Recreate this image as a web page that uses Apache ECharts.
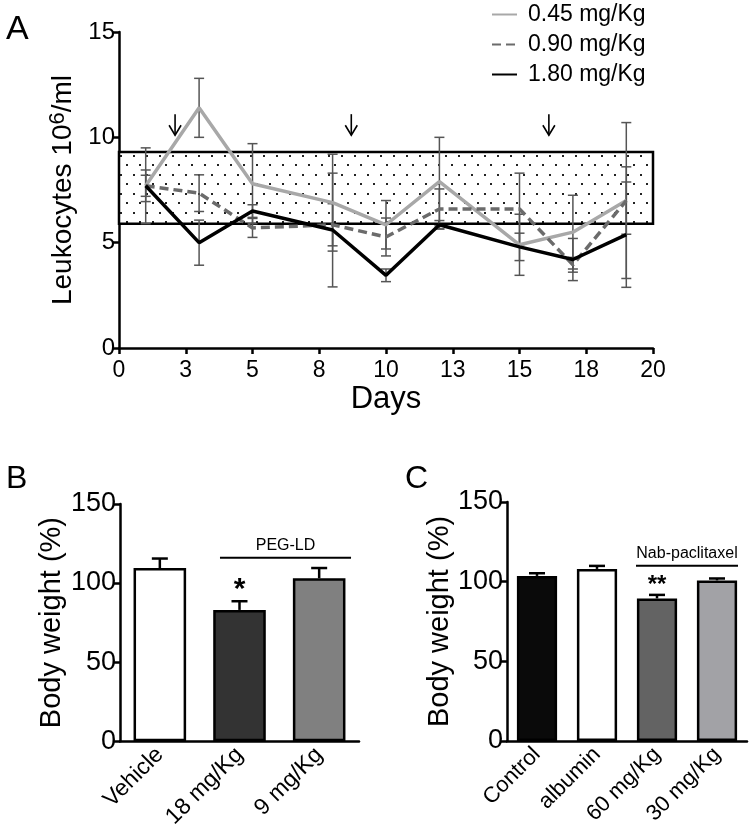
<!DOCTYPE html>
<html>
<head>
<meta charset="utf-8">
<script src="https://cdn.jsdelivr.net/npm/echarts@6/dist/echarts.min.js"></script>
<style>
  html, body { margin: 0; padding: 0; background: #fff; }
  #chart { width: 750px; height: 831px; }
</style>
</head>
<body>
<div id="chart"></div>
<script>
// Three panels in one chart: A = leukocyte counts over time (3 doses, with
// normal-range band and dosing arrows), B and C = body weight bar charts.

const FONT = '"Liberation Sans", Arial, Helvetica, sans-serif';

// ---- panel A data ----
const days = [1, 3, 5, 8, 10, 12, 15, 17, 19];
const doseNames = ['0.45 mg/Kg', '0.90 mg/Kg', '1.80 mg/Kg'];
const dose045 = [7.7, 11.4, 7.8, 6.9, 5.85, 7.9, 4.9, 5.5, 7.0];
const sd045 = [1.8, 1.4, 1.9, 2.3, 1.15, 2.1, 1.45, 1.75, 3.7];
const dose090 = [7.7, 7.35, 5.7, 5.85, 5.27, 6.6, 6.6, 3.95, 7.0];
const sd090 = [0.75, 0.87, 0.45, 1.0, 0.9, 0.95, 1.7, 0.35, 1.6];
const dose180 = [7.7, 5.0, 6.5, 5.6, 3.45, 5.85, 4.8, 4.2, 5.38];
const sd180 = [0.5, 1.07, 0.3, 2.7, 0.3, 0.2, 0.65, 1.0, 2.5];
const normalBand = [5.9, 9.3];          // low, high (10^6/ml)
const arrowDays = [2.1, 8.7, 16.1];     // dosing days
const arrowSpan = [11.1, 10.1];         // arrow top, tip

// ---- panel B data ----
const bCats = ['Vehicle', '18 mg/Kg', '9 mg/Kg'];
const bMeans = [109.5, 83, 103];
const bErr = [6, 5.5, 6.5];
const bSig = ['', '*', ''];
const bGroup = [[1, 2, 116]];           // from cat, to cat, height
const bGroupLabel = ['PEG-LD'];

// ---- panel C data ----
const cCats = ['Control', 'albumin', '60 mg/Kg', '30 mg/Kg'];
const cMeans = [103.6, 108, 89.5, 100.8];
const cErr = [1.7, 1.9, 2.2, 1.2];
const cSig = ['', '', '**', ''];
const cGroup = [[2, 3, 110]];
const cGroupLabel = ['Nab-paclitaxel'];

// styles
const lineColors = ['#a8a8a8', '#6b6b6b', '#000000'];
const bFill = ['#ffffff', '#333333', '#808080'];
const cFill = ['#0a0a0a', '#ffffff', '#636363', '#a2a2a6'];

function dotPattern() {
  const c = document.createElement('canvas');
  c.width = 13; c.height = 19;
  const g = c.getContext('2d');
  g.fillStyle = '#fff';
  g.fillRect(0, 0, 13, 19);
  g.fillStyle = '#222';
  g.fillRect(3, 3, 2, 2);
  g.fillRect(9, 12, 2, 2);
  return c;
}

// error bars: [x, mean, err]; upOnly for bar charts
function errBar(capHalf, lw, color, upOnly, sig, sigSize, sigOffset) {
  return function (params, api) {
    const x = api.value(0), m = api.value(1), e = api.value(2);
    const hi = api.coord([x, m + e]);
    const lo = api.coord([x, upOnly ? m : m - e]);
    const st = { stroke: color, lineWidth: lw };
    const kids = [
      { type: 'line', shape: { x1: hi[0], y1: hi[1], x2: lo[0], y2: lo[1] }, style: st },
      { type: 'line', shape: { x1: hi[0] - capHalf, y1: hi[1], x2: hi[0] + capHalf, y2: hi[1] }, style: st },
    ];
    if (!upOnly) {
      kids.push({ type: 'line', shape: { x1: lo[0] - capHalf, y1: lo[1], x2: lo[0] + capHalf, y2: lo[1] }, style: st });
    }
    if (sig && sig[params.dataIndex]) {
      kids.push({ type: 'text', x: hi[0], y: hi[1] + sigOffset,
        style: { text: sig[params.dataIndex], fontSize: sigSize, fontWeight: 'bold', fontFamily: FONT,
          fill: '#000', align: 'center', verticalAlign: 'top' } });
    }
    return { type: 'group', children: kids };
  };
}

// group line with label above, extended by fractions of a category band
function groupLine(labels, extL, extR, fontSize) {
  return function (params, api) {
    const a = api.coord([api.value(0), api.value(2)]);
    const b = api.coord([api.value(1), api.value(2)]);
    const bw = api.size([1, 0])[0];
    const x1 = a[0] - extL * bw, x2 = b[0] + extR * bw;
    return { type: 'group', children: [
      { type: 'line', shape: { x1, y1: a[1], x2, y2: a[1] }, style: { stroke: '#000', lineWidth: 2 } },
      { type: 'text', x: (x1 + x2) / 2, y: a[1] - 4,
        style: { text: labels[params.dataIndex], fontSize, fontFamily: FONT, fill: '#000',
          align: 'center', verticalAlign: 'bottom' } },
    ]};
  };
}

function arrowItem(params, api) {
  const t = api.coord([api.value(0), api.value(1)]);
  const p = api.coord([api.value(0), api.value(2)]);
  const st = { stroke: '#000', lineWidth: 1.6 };
  return { type: 'group', children: [
    { type: 'line', shape: { x1: t[0], y1: t[1], x2: p[0], y2: p[1] }, style: st },
    { type: 'polyline', shape: { points: [[p[0] - 6, p[1] - 10], [p[0], p[1]], [p[0] + 6, p[1] - 10]] }, style: { stroke: '#000', lineWidth: 1.6, fill: null } },
  ]};
}

const axLine = { lineStyle: { color: '#000', width: 2.5 } };
const axTick = { length: 6, lineStyle: { color: '#000', width: 2.5 } };

const doseVals = [dose045, dose090, dose180];
const doseSd = [sd045, sd090, sd180];

const series = [];
// normal range band
series.push({
  type: 'line', xAxisIndex: 0, yAxisIndex: 0, data: [], z: 1, silent: true,
  markArea: {
    silent: true,
    itemStyle: { color: { image: dotPattern(), repeat: 'repeat' }, borderColor: '#000', borderWidth: 2.5 },
    data: [[{ xAxis: 0, yAxis: normalBand[0] }, { xAxis: 20, yAxis: normalBand[1] }]],
  },
});
doseVals.forEach((vals, i) => {
  series.push({
    type: 'custom', xAxisIndex: 0, yAxisIndex: 0, z: 3, silent: true,
    renderItem: errBar(5, 1.5, '#555555', false),
    data: days.map((d, j) => [d, vals[j], doseSd[i][j]]),
  });
});
doseVals.forEach((vals, i) => {
  series.push({
    type: 'line', name: doseNames[i], xAxisIndex: 0, yAxisIndex: 0, z: 5,
    data: days.map((d, j) => [d, vals[j]]),
    symbol: 'none',
    lineStyle: { color: lineColors[i], width: 3.5, type: i === 1 ? [9, 5] : 'solid' },
    itemStyle: { color: lineColors[i] },
  });
});
series.push({
  type: 'custom', xAxisIndex: 0, yAxisIndex: 0, z: 6, silent: true,
  renderItem: arrowItem,
  data: arrowDays.map((d) => [d, arrowSpan[0], arrowSpan[1]]),
});

// panel B
series.push({
  type: 'bar', xAxisIndex: 1, yAxisIndex: 1, barWidth: '66%', z: 2,
  data: bMeans.map((v, i) => ({ value: v, itemStyle: { color: bFill[i] } })),
  itemStyle: { borderColor: '#000', borderWidth: 2.5 },
});
series.push({
  type: 'custom', xAxisIndex: 1, yAxisIndex: 1, z: 3, silent: true,
  renderItem: errBar(8, 2.5, '#000', true, bSig, 30, -26),
  data: bMeans.map((v, i) => [i, v, bErr[i]]),
});
series.push({
  type: 'custom', xAxisIndex: 1, yAxisIndex: 1, z: 3, silent: true,
  renderItem: groupLine(bGroupLabel, 0.245, 0.4, 16),
  data: bGroup,
});

// panel C
series.push({
  type: 'bar', xAxisIndex: 2, yAxisIndex: 2, barWidth: '67%', z: 2,
  data: cMeans.map((v, i) => ({ value: v, itemStyle: { color: cFill[i] } })),
  itemStyle: { borderColor: '#000', borderWidth: 2.5 },
});
series.push({
  type: 'custom', xAxisIndex: 2, yAxisIndex: 2, z: 3, silent: true,
  renderItem: errBar(8, 2.5, '#000', true, cSig, 24, -22),
  data: cMeans.map((v, i) => [i, v, cErr[i]]),
});
series.push({
  type: 'custom', xAxisIndex: 2, yAxisIndex: 2, z: 3, silent: true,
  renderItem: groupLine(cGroupLabel, 0.35, 0.35, 16),
  data: cGroup,
});

const chart = echarts.init(document.getElementById('chart'), null, { renderer: 'canvas' });
chart.setOption({
  animation: false,
  textStyle: { fontFamily: FONT, color: '#000' },
  title: [
    { text: 'A', left: 1, top: 8, textStyle: { fontSize: 34, fontWeight: 'normal', fontFamily: FONT, color: '#000' } },
    { text: 'B', left: 1, top: 458, textStyle: { fontSize: 32, fontWeight: 'normal', fontFamily: FONT, color: '#000' } },
    { text: 'C', left: 400, top: 458, textStyle: { fontSize: 32, fontWeight: 'normal', fontFamily: FONT, color: '#000' } },
  ],
  legend: {
    data: doseNames, orient: 'vertical', left: 486, top: -2,
    itemWidth: 25, itemHeight: 14, itemGap: 7, selectedMode: false,
    itemStyle: { opacity: 0 },
    textStyle: { fontSize: 23, fontFamily: FONT, color: '#000', padding: [0, 0, 0, 6] },
  },
  grid: [
    { left: 119, top: 32, width: 534, height: 316 },
    { left: 120, top: 504, width: 239, height: 238 },
    { left: 507, top: 502, width: 240, height: 239 },
  ],
  xAxis: [
    {
      type: 'value', gridIndex: 0, min: 0, max: 20, interval: 2.5,
      axisLine: axLine, axisTick: axTick, splitLine: { show: false },
      axisLabel: { fontSize: 23, color: '#000', margin: 11, formatter: (v) => String(Math.round(v)) },
      name: 'Days', nameLocation: 'middle', nameGap: 36,
      nameTextStyle: { fontSize: 31, color: '#000', fontFamily: FONT },
    },
    {
      type: 'category', gridIndex: 1, data: bCats,
      axisLine: axLine, axisTick: { show: false },
      axisLabel: { fontSize: 23, color: '#000', rotate: 45, margin: 10, interval: 0 },
    },
    {
      type: 'category', gridIndex: 2, data: cCats,
      axisLine: axLine, axisTick: { show: false },
      axisLabel: { fontSize: 22, color: '#000', rotate: 45, margin: 10, interval: 0 },
    },
  ],
  yAxis: [
    {
      type: 'value', gridIndex: 0, min: 0, max: 15, interval: 5,
      axisLine: { show: true, ...axLine }, axisTick: { show: true, ...axTick }, splitLine: { show: false },
      axisLabel: { fontSize: 24, color: '#000', margin: 4 },
      name: 'Leukocytes 10{sup|6}/ml', nameLocation: 'middle', nameGap: 40,
      nameTextStyle: { fontSize: 28, color: '#000', fontFamily: FONT,
        rich: { sup: { fontSize: 22, fontFamily: FONT, color: '#000', verticalAlign: 'top', padding: [0, 0, 10, 0] } } },
    },
    {
      type: 'value', gridIndex: 1, min: 0, max: 150, interval: 50,
      axisLine: { show: true, ...axLine }, axisTick: { show: true, ...axTick }, splitLine: { show: false },
      axisLabel: { fontSize: 27, color: '#000', margin: 4 },
      name: 'Body weight (%)', nameLocation: 'middle', nameGap: 54,
      nameTextStyle: { fontSize: 29, color: '#000', fontFamily: FONT },
    },
    {
      type: 'value', gridIndex: 2, min: 0, max: 150, interval: 50,
      axisLine: { show: true, ...axLine }, axisTick: { show: true, ...axTick }, splitLine: { show: false },
      axisLabel: { fontSize: 27, color: '#000', margin: 4 },
      name: 'Body weight (%)', nameLocation: 'middle', nameGap: 50,
      nameTextStyle: { fontSize: 29, color: '#000', fontFamily: FONT },
    },
  ],
  series,
});
</script>
</body>
</html>
